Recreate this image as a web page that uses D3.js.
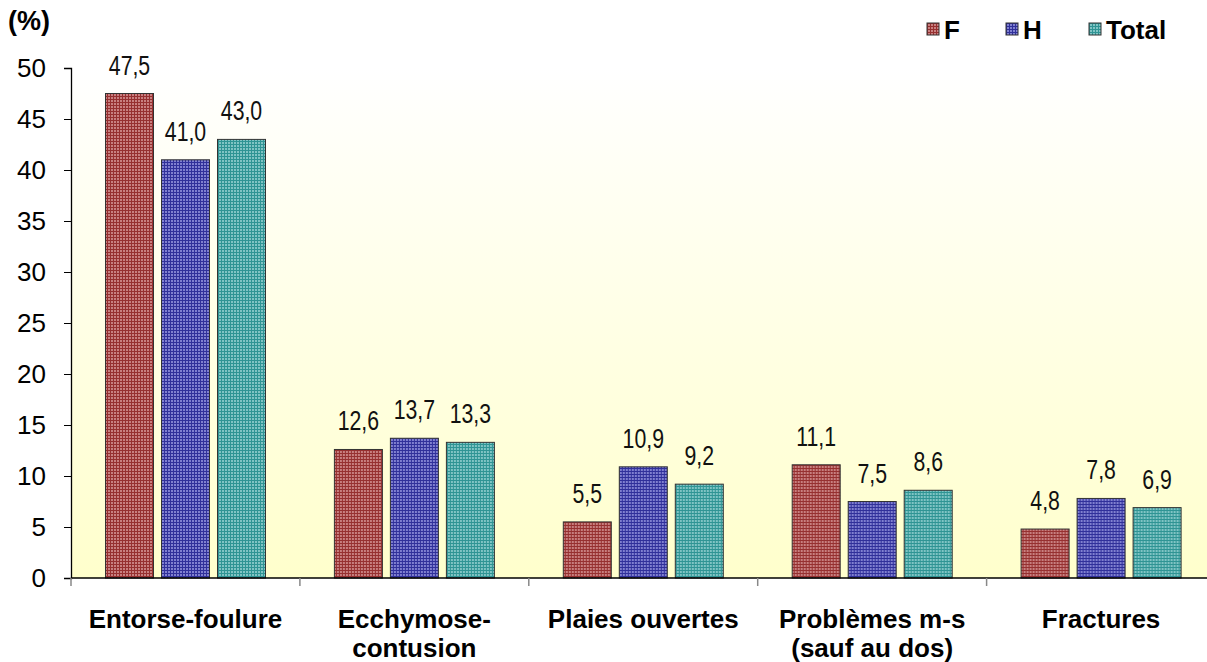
<!DOCTYPE html>
<html>
<head>
<meta charset="utf-8">
<script src="https://cdn.jsdelivr.net/npm/d3@7"></script>
<style>
  body { margin: 0; background: #fff; }
  text { font-family: "Liberation Sans", Arial, sans-serif; }
</style>
</head>
<body>
<div id="chart"></div>
<script>
// data
var categories = [["Entorse-foulure"], ["Ecchymose-", "contusion"], ["Plaies ouvertes"],
                  ["Problèmes m-s", "(sauf au dos)"], ["Fractures"]];
var seriesNames = ["F", "H", "Total"];
var valuesF = [47.5, 12.6, 5.5, 11.1, 4.8];
var valuesH = [41.0, 13.7, 10.9, 7.5, 7.8];
var valuesTotal = [43.0, 13.3, 9.2, 8.6, 6.9];
var yTicks = [0, 5, 10, 15, 20, 25, 30, 35, 40, 45, 50];

var colors = {
  F: {dark: "#963030", light: "#c88080"},
  H: {dark: "#30309a", light: "#8080d0"},
  Total: {dark: "#2f9494", light: "#80c4c4"}
};

var W = 1207, H = 662;
var margin = {top: 68, left: 71, bottom: 84};
var plotBottom = H - margin.bottom;

var svg = d3.select("#chart").append("svg")
  .attr("width", W).attr("height", H);

var defs = svg.append("defs");
var grad = defs.append("linearGradient").attr("id", "bg")
  .attr("x1", 0).attr("y1", 0).attr("x2", 0).attr("y2", 1);
grad.append("stop").attr("offset", "0%").attr("stop-color", "#ffffff");
grad.append("stop").attr("offset", "100%").attr("stop-color", "#ffffcc");

// checkered fills for the bars
seriesNames.forEach(function(s) {
  var p = defs.append("pattern").attr("id", "pat-" + s)
    .attr("patternUnits", "userSpaceOnUse").attr("width", 3).attr("height", 3);
  p.append("rect").attr("width", 3).attr("height", 3).attr("fill", colors[s].light);
  p.append("rect").attr("width", 3).attr("height", 1).attr("fill", colors[s].dark);
  p.append("rect").attr("width", 1).attr("height", 3).attr("fill", colors[s].dark);
});

var rows = categories.map(function(c, i) {
  return {cat: c.join(" "), lines: c, F: valuesF[i], H: valuesH[i], Total: valuesTotal[i]};
});

var x0 = d3.scaleBand()
  .domain(rows.map(function(d) { return d.cat; }))
  .range([margin.left, margin.left + 5 * 228.9])
  .padding(0);

var x1 = d3.scaleBand()
  .domain(seriesNames)
  .range([34.5, 194.5])
  .paddingInner(8 / 56);

var y = d3.scaleLinear().domain([0, 50]).range([plotBottom, margin.top]);

// plot background
svg.append("rect")
  .attr("x", margin.left).attr("y", margin.top)
  .attr("width", W - margin.left).attr("height", plotBottom - margin.top)
  .attr("fill", "url(#bg)");

var fmt = function(v) { return d3.format(".1f")(v).replace(".", ","); };

// bars
var groups = svg.selectAll(".grp").data(rows).enter().append("g")
  .attr("transform", function(d) { return "translate(" + x0(d.cat) + ",0)"; });

groups.selectAll("rect").data(function(d) {
    return seriesNames.map(function(s) { return {key: s, value: d[s]}; });
  }).enter().append("rect")
  .attr("x", function(d) { return x1(d.key); })
  .attr("y", function(d) { return y(d.value); })
  .attr("width", x1.bandwidth())
  .attr("height", function(d) { return plotBottom - y(d.value); })
  .attr("fill", function(d) { return "url(#pat-" + d.key + ")"; })
  .attr("stroke", "#333")
  .attr("stroke-width", 1);

// value labels, squeezed sideways to look like a narrow face
groups.selectAll(".val").data(function(d) {
    return seriesNames.map(function(s) { return {key: s, value: d[s]}; });
  }).enter().append("text")
  .attr("transform", function(d) {
    return "translate(" + (x1(d.key) + x1.bandwidth() / 2) + "," + (y(d.value) - 19) + ") scale(0.76,1)";
  })
  .attr("text-anchor", "middle")
  .attr("font-size", "28px")
  .attr("fill", "#111")
  .text(function(d) { return fmt(d.value); });

// y axis
var yAxis = svg.append("g")
  .attr("transform", "translate(" + margin.left + ",0)")
  .call(d3.axisLeft(y).tickValues(yTicks).tickSize(7).tickPadding(18));
yAxis.select(".domain").attr("stroke", "#000").attr("stroke-width", 1.3);
yAxis.selectAll(".tick line").attr("stroke", "#000");
yAxis.selectAll("text").attr("font-size", "26px").attr("fill", "#000")
  .style("font-family", "'Liberation Sans', Arial, sans-serif");

// x axis line and ticks between categories
svg.append("line")
  .attr("x1", margin.left).attr("x2", W)
  .attr("y1", plotBottom).attr("y2", plotBottom)
  .attr("stroke", "#000").attr("stroke-width", 1.5);

svg.selectAll(".xtick").data(rows).enter().append("line")
  .attr("x1", function(d) { return x0(d.cat); })
  .attr("x2", function(d) { return x0(d.cat); })
  .attr("y1", plotBottom).attr("y2", plotBottom + 8)
  .attr("stroke", "#888").attr("stroke-width", 1.5);

// category labels
var lab = svg.selectAll(".cat").data(rows).enter().append("text")
  .attr("text-anchor", "middle")
  .attr("font-size", "26px")
  .attr("font-weight", "bold")
  .attr("fill", "#000");
lab.selectAll("tspan").data(function(d) {
    return d.lines.map(function(l) { return {line: l, cx: x0(d.cat) + x0.bandwidth() / 2}; });
  }).enter().append("tspan")
  .attr("x", function(d) { return d.cx; })
  .attr("y", function(d, i) { return 628 + i * 29; })
  .text(function(d) { return d.line; });

// unit label
svg.append("text")
  .attr("x", 8).attr("y", 30)
  .attr("font-size", "27px").attr("font-weight", "bold")
  .text("(%)");

// legend
var legendX = [927, 1006, 1089];
var leg = svg.selectAll(".leg").data(seriesNames).enter().append("g")
  .attr("transform", function(d, i) { return "translate(" + legendX[i] + ",23)"; });
leg.append("rect")
  .attr("width", 12).attr("height", 12)
  .attr("fill", function(d) { return "url(#pat-" + d + ")"; })
  .attr("stroke", "#333").attr("stroke-width", 1);
leg.append("text")
  .attr("x", 17).attr("y", 16)
  .attr("font-size", "26px").attr("font-weight", "bold")
  .text(function(d) { return d; });
</script>
</body>
</html>
